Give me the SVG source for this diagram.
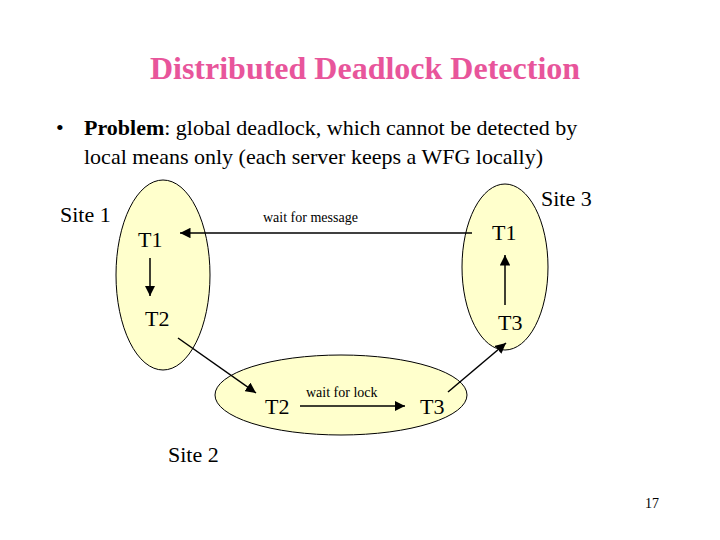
<svg xmlns="http://www.w3.org/2000/svg" width="720" height="540" viewBox="0 0 720 540" font-family="Liberation Serif, Times New Roman, serif">
<style>
.e{fill:#FFFFCC;stroke:#000;stroke-width:1}
.c{stroke:#000;stroke-width:1.5;fill:none;marker-end:url(#a)}
</style>
<defs><marker id="a" viewBox="0 0 10 10" refX="10" refY="5" markerWidth="7" markerHeight="7" orient="auto"><path d="M0,0L10,5L0,10z" fill="#000"/></marker></defs>
<rect width="720" height="540" fill="#fff"/>
<text x="365" y="79" text-anchor="middle" font-size="32" font-weight="bold" fill="#E8559B">Distributed Deadlock Detection</text>
<text x="56" y="135" font-size="22">•</text>
<text x="84" y="135" font-size="22"><tspan font-weight="bold">Problem</tspan>: global deadlock, which cannot be detected by</text>
<text x="84" y="164" font-size="22">local means only (each server keeps a WFG locally)</text>
<g id="site1"><ellipse class="e" cx="163" cy="275" rx="47" ry="95"/><text x="60" y="222" font-size="22">Site 1</text></g>
<g id="site3"><ellipse class="e" cx="505" cy="267" rx="43" ry="83"/><text x="541" y="206" font-size="22">Site 3</text></g>
<g id="site2"><ellipse class="e" cx="341" cy="395" rx="126" ry="40"/><text x="168" y="462" font-size="22">Site 2</text></g>
<g id="s1t1"><text x="138" y="247" font-size="22">T1</text></g>
<g id="s1t2"><text x="145" y="326" font-size="22">T2</text></g>
<g id="s3t1"><text x="492" y="240" font-size="22">T1</text></g>
<g id="s3t3"><text x="498" y="330" font-size="22">T3</text></g>
<g id="s2t2"><text x="265" y="414" font-size="22">T2</text></g>
<g id="s2t3"><text x="420" y="414" font-size="22">T3</text></g>
<g id="connectors">
<line class="c" x1="472" y1="233" x2="180" y2="233"/>
<text x="263" y="222" font-size="14">wait for message</text>
<line class="c" x1="150" y1="258" x2="150" y2="296"/>
<line class="c" x1="178" y1="338" x2="256" y2="393"/>
<line class="c" x1="300" y1="406" x2="405" y2="406"/>
<text x="306" y="397" font-size="14">wait for lock</text>
<line class="c" x1="448" y1="392" x2="506" y2="343"/>
<line class="c" x1="505" y1="305" x2="505" y2="255"/>
</g>
<text x="645" y="508" font-size="14">17</text>
</svg>
